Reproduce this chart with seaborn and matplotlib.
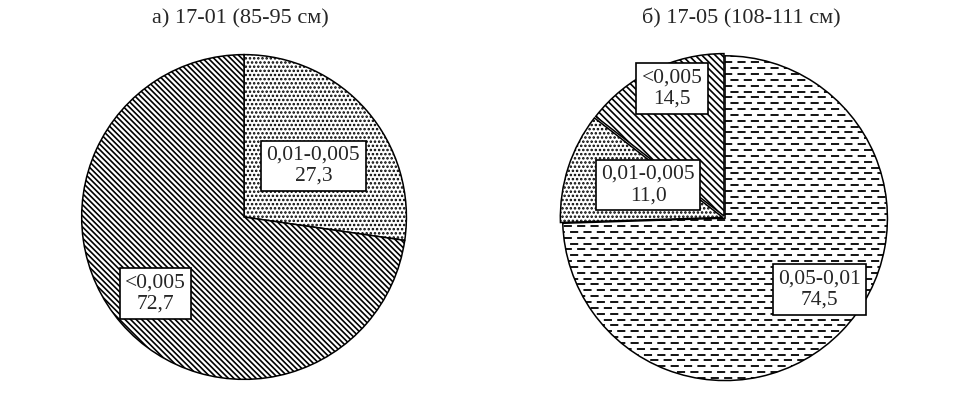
import numpy as np
import matplotlib
matplotlib.use('Agg')
from matplotlib import pyplot as plt
import seaborn as sns

# data
titles = ['а) 17-01 (85-95 см)', 'б) 17-05 (108-111 см)']
left_labels = ['0,01-0,005', '<0,005']
left_values = [27.3, 72.7]
right_labels = ['0,05-0,01', '0,01-0,005', '<0,005']
right_values = [74.5, 11.0, 14.5]

sns.set_theme(style='white')
plt.rcParams['font.family'] = ['Liberation Serif', 'DejaVu Serif']
plt.rcParams['hatch.linewidth'] = 1.2
plt.rcParams['hatch.color'] = 'black'

HATCH = {
    '0,01-0,005': '....',
    '<0,005': '\\' * 6,
    '0,05-0,01': None,   # dashed texture drawn separately
}


def fmt(v):
    return f'{v:.1f}'.replace('.', ',')


def dashed_fill(ax, wedge):
    # horizontal dashed texture clipped to the wedge
    for k, y in enumerate(np.arange(-1.02, 1.05, 0.036)):
        off = 0 if k % 2 == 0 else 3.5
        ln, = ax.plot([-1.2, 1.2], [y, y], color='black', lw=1.3,
                      ls=(off, (4.5, 2.9)), zorder=wedge.get_zorder() + 0.1)
        ln.set_clip_path(wedge)


def draw_pie(ax, labels, values, explode, label_pos, diag):
    wedges, _ = ax.pie(values, startangle=90, counterclock=False,
                       explode=explode, radius=1,
                       colors=['white'] * len(values),
                       wedgeprops=dict(edgecolor='black', linewidth=1.1))
    for w, lab, val, (r, dang) in zip(wedges, labels, values, label_pos):
        h = HATCH[lab]
        if lab == '<0,005':
            h = '\\' * diag
        if h:
            w.set_hatch(h)
        else:
            dashed_fill(ax, w)
        mid = np.deg2rad((w.theta1 + w.theta2) / 2 + dang)
        cx, cy = w.center
        ax.text(cx + r * np.cos(mid), cy + r * np.sin(mid), f'{lab}\n{fmt(val)}',
                ha='center', va='center', fontsize=15.5, linespacing=1.15, zorder=10,
                bbox=dict(boxstyle='square,pad=0.25', fc='white', ec='black', lw=1.2))
    ax.set_xlim(-1.01, 1.01)
    ax.set_ylim(-1.01, 1.01)
    ax.set_aspect('equal')
    ax.axis('off')


fig = plt.figure(figsize=(9.69, 3.94), dpi=100)
ax1 = fig.add_axes([0.0826, 0.033, 0.3385, 0.8325])
ax2 = fig.add_axes([0.579, 0.030, 0.3385, 0.8325])

draw_pie(ax1, left_labels, left_values, [0, 0], [(0.53, -4.5), (0.72, 0)], 6)
draw_pie(ax2, right_labels, right_values, [0, 0.015, 0.015],
         [(0.73, 7), (0.50, -5.5), (0.85, -4)], 5)

fig.text(0.248, 0.952, titles[0], ha='center', va='center', fontsize=16)
fig.text(0.765, 0.952, titles[1], ha='center', va='center', fontsize=16)

fig.savefig('out.png', dpi=100, facecolor='white')
